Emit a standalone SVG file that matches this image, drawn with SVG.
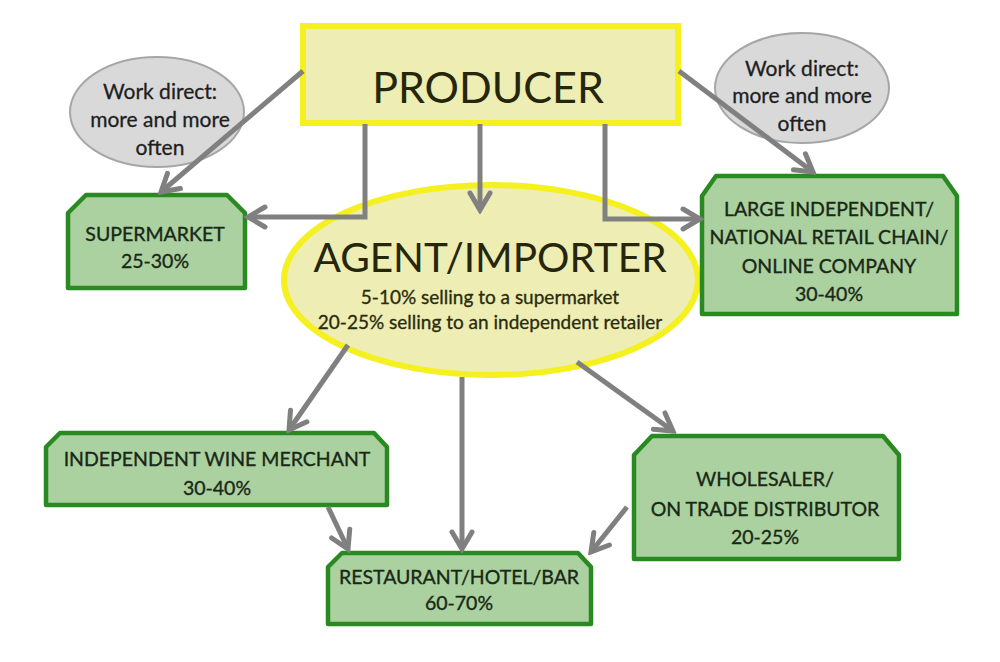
<svg xmlns="http://www.w3.org/2000/svg" width="1000" height="662" viewBox="0 0 1000 662">
<defs>
<marker id="arr" viewBox="0 0 26 26" refX="22" refY="13" markerWidth="26" markerHeight="26" markerUnits="userSpaceOnUse" orient="auto">
<path d="M5,3 L22,13 L5,23" fill="none" stroke="#808080" stroke-width="5" stroke-linejoin="miter" stroke-linecap="round"/>
</marker>
</defs>
<style>
.bubble{fill:#d9d9d9;stroke:#a6a6a6;stroke-width:2}
.btxt{font-family:Lato,"Liberation Sans",sans-serif;font-size:21px;fill:#1e1e1e;stroke:#1e1e1e;stroke-width:0.3;text-anchor:middle}
.box{fill:#acd1a0;stroke:#2a8a22;stroke-width:4.5;stroke-linejoin:round}
.gtxt{font-family:Lato,"Liberation Sans",sans-serif;font-size:19.5px;fill:#182817;stroke:#182817;stroke-width:0.35;text-anchor:middle}
.ylw{fill:#ededb4;stroke:#f5f020;stroke-width:6}
.big{font-family:Lato,"Liberation Sans",sans-serif;fill:#25260a;text-anchor:middle}
.sml{font-family:Lato,"Liberation Sans",sans-serif;font-size:19px;fill:#2a2a0c;stroke:#2a2a0c;stroke-width:0.3;text-anchor:middle}
.con{fill:none;stroke:#808080;stroke-width:5;marker-end:url(#arr)}
</style>
<rect width="1000" height="662" fill="#ffffff"/>

<g id="bubble-left">
<ellipse class="bubble" cx="157" cy="112" rx="87" ry="55"/>
<text class="btxt" x="160" y="99">Work direct:</text>
<text class="btxt" x="160" y="127">more and more</text>
<text class="btxt" x="160" y="155">often</text>
</g>
<g id="bubble-right">
<ellipse class="bubble" cx="802" cy="88" rx="87" ry="55"/>
<text class="btxt" x="802" y="76">Work direct:</text>
<text class="btxt" x="802" y="103">more and more</text>
<text class="btxt" x="802" y="131">often</text>
</g>

<g id="producer">
<rect class="ylw" x="303" y="26" width="375" height="97"/>
<text class="big" x="488" y="103" font-size="43">PRODUCER</text>
</g>

<g id="agent">
<ellipse class="ylw" cx="491" cy="280" rx="207" ry="95"/>
<text class="big" x="490" y="272" font-size="40.5">AGENT/IMPORTER</text>
<text class="sml" x="490" y="304">5-10% selling to a supermarket</text>
<text class="sml" x="490" y="329">20-25% selling to an independent retailer</text>
</g>

<g id="supermarket">
<path class="box" d="M68,213 L86,195 L227,195 L245,213 L245,288 L68,288 Z"/>
<text class="gtxt" x="155" y="241">SUPERMARKET</text>
<text class="gtxt" x="155" y="268">25-30%</text>
</g>

<g id="large-independent">
<path class="box" d="M702,196 L716,176 L943,176 L957,196 L957,314 L702,314 Z"/>
<text class="gtxt" x="829" y="216">LARGE INDEPENDENT/</text>
<text class="gtxt" x="829" y="244">NATIONAL RETAIL CHAIN/</text>
<text class="gtxt" x="829" y="273">ONLINE COMPANY</text>
<text class="gtxt" x="829" y="301">30-40%</text>
</g>

<g id="wine-merchant">
<path class="box" d="M46,447 L60,433 L374,433 L387,447 L387,505 L46,505 Z"/>
<text class="gtxt" x="217" y="466">INDEPENDENT WINE MERCHANT</text>
<text class="gtxt" x="217" y="495">30-40%</text>
</g>

<g id="restaurant">
<path class="box" d="M328,567 L342,553 L578,553 L591,567 L591,624 L328,624 Z"/>
<text class="gtxt" x="459" y="584">RESTAURANT/HOTEL/BAR</text>
<text class="gtxt" x="459" y="610">60-70%</text>
</g>

<g id="wholesaler">
<path class="box" d="M634,455 L652,436 L883,436 L899,455 L899,559 L634,559 Z"/>
<text class="gtxt" x="765" y="486">WHOLESALER/</text>
<text class="gtxt" x="765" y="516">ON TRADE DISTRIBUTOR</text>
<text class="gtxt" x="765" y="544">20-25%</text>
</g>

<g id="connectors">
<path class="con" d="M303,71 L161,192"/>
<path class="con" d="M365,124 L365,217 L248,217"/>
<path class="con" d="M480,124 L480,210"/>
<path class="con" d="M605,124 L605,219 L700,219"/>
<path class="con" d="M679,71 L813,172"/>
<path class="con" d="M348,345 L289,430"/>
<path class="con" d="M462,377 L462,549"/>
<path class="con" d="M577,362 L673,431"/>
<path class="con" d="M328,507 L348,549"/>
<path class="con" d="M627,507 L591,552"/>
</g>
</svg>
